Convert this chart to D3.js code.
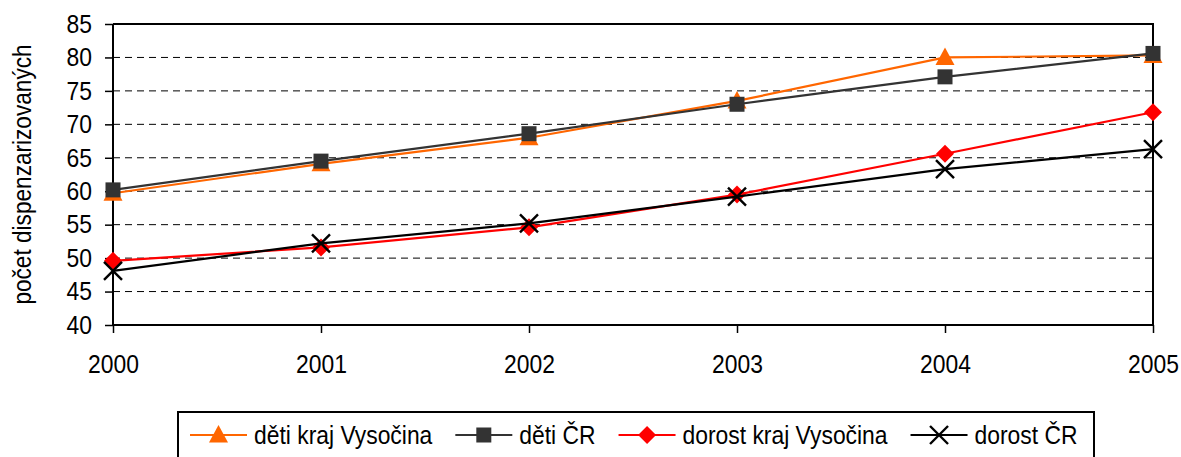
<!DOCTYPE html>
<html>
<head>
<meta charset="utf-8">
<script src="https://cdn.jsdelivr.net/npm/d3@7"></script>
<style>
  body { margin: 0; background: #fff; }
  text { font-family: "Liberation Sans Narrow", "Arial Narrow", "Liberation Sans", sans-serif; }
</style>
</head>
<body>
<div id="chart"></div>
<script>
// data
var years = ["2000", "2001", "2002", "2003", "2004", "2005"];
var detiKraj = [59.7, 64.1, 68.0, 73.5, 80.0, 80.3];
var detiCR = [60.2, 64.5, 68.6, 73.0, 77.1, 80.6];
var dorostKraj = [49.6, 51.6, 54.6, 59.5, 65.6, 71.8];
var dorostCR = [48.1, 52.2, 55.2, 59.2, 63.3, 66.3];
var yTicks = [40, 45, 50, 55, 60, 65, 70, 75, 80, 85];

var series = [
  {name: "děti kraj Vysočina", values: detiKraj, color: "#ff6600", marker: "triangle"},
  {name: "děti ČR", values: detiCR, color: "#333333", marker: "square"},
  {name: "dorost kraj Vysočina", values: dorostKraj, color: "#ff0000", marker: "diamond"},
  {name: "dorost ČR", values: dorostCR, color: "#000000", marker: "cross"}
];

// narrow look: regular sans squeezed horizontally
var squeeze = 0.88;

var svg_width = 1181;
var svg_height = 457;
var svg = d3.select("#chart").append("svg")
  .attr("width", svg_width)
  .attr("height", svg_height);

var margin = {top: 24, right: 28, bottom: 132, left: 113};
var chart_width = svg_width - margin.left - margin.right;
var chart_height = svg_height - margin.top - margin.bottom;

var g = svg.append("g")
  .attr("transform", "translate(" + margin.left + "," + margin.top + ")");

var x = d3.scalePoint()
  .domain(years)
  .range([0, chart_width]);

var y = d3.scaleLinear()
  .domain([40, 85])
  .range([chart_height, 0]);

// dashed grid
g.append("g").selectAll("line")
  .data(yTicks.filter(function(d) { return d > 40 && d < 85; }))
  .enter().append("line")
  .attr("x1", 0)
  .attr("x2", chart_width)
  .attr("y1", function(d) { return y(d); })
  .attr("y2", function(d) { return y(d); })
  .attr("stroke", "#000")
  .attr("stroke-width", 1)
  .attr("stroke-dasharray", "7,5");

// plot border top & right
g.append("path")
  .attr("d", "M0," + y(85) + "H" + chart_width + "V" + chart_height)
  .attr("fill", "none")
  .attr("stroke", "#000")
  .attr("stroke-width", 2);

// y axis
var yAxis = g.append("g")
  .call(d3.axisLeft(y).tickValues(yTicks).tickSize(8).tickPadding(13));
yAxis.select(".domain").attr("stroke-width", 2).attr("d", "M0,0V" + chart_height);
yAxis.selectAll(".tick line").attr("stroke-width", 1.5);
yAxis.selectAll("text")
  .attr("font-size", "26px")
  .attr("fill", "#000")
  .attr("x", -21 / squeeze)
  .attr("transform", "scale(" + squeeze + ",1)");

// x axis
var xAxis = g.append("g")
  .attr("transform", "translate(0," + chart_height + ")")
  .call(d3.axisBottom(x).tickSize(8).tickPadding(22));
xAxis.select(".domain").attr("stroke-width", 2).attr("d", "M0,0H" + chart_width);
xAxis.selectAll(".tick line").attr("stroke-width", 1.5);
xAxis.selectAll("text")
  .attr("font-size", "26px")
  .attr("fill", "#000")
  .attr("transform", "scale(" + squeeze + ",1)");

// y-axis label
svg.append("text")
  .attr("transform", "translate(31," + (margin.top + chart_height / 2) + ") rotate(-90) scale(0.87,1)")
  .attr("text-anchor", "middle")
  .attr("font-size", "26px")
  .text("počet dispenzarizovaných");

function drawMarker(sel, type, color) {
  if (type == "triangle") {
    sel.append("path").attr("d", "M0,-10L9.5,7.5L-9.5,7.5Z").attr("fill", color);
  } else if (type == "square") {
    sel.append("rect").attr("x", -7.5).attr("y", -7.5).attr("width", 15).attr("height", 15).attr("fill", color);
  } else if (type == "diamond") {
    sel.append("path").attr("d", "M0,-9L9,0L0,9L-9,0Z").attr("fill", color);
  } else {
    sel.append("path").attr("d", "M-9,-9L9,9M9,-9L-9,9").attr("stroke", color).attr("stroke-width", 2.4);
  }
}

var line = d3.line()
  .x(function(d, i) { return x(years[i]); })
  .y(function(d) { return y(d); });

series.forEach(function(s) {
  g.append("path")
    .attr("d", line(s.values))
    .attr("fill", "none")
    .attr("stroke", s.color)
    .attr("stroke-width", 2.2);
  s.values.forEach(function(v, i) {
    var m = g.append("g")
      .attr("transform", "translate(" + x(years[i]) + "," + y(v) + ")");
    drawMarker(m, s.marker, s.color);
  });
});

// legend
var legend = svg.append("g");
legend.append("rect")
  .attr("x", 178).attr("y", 412)
  .attr("width", 916).attr("height", 60)
  .attr("fill", "#fff")
  .attr("stroke", "#000")
  .attr("stroke-width", 2);

var lx = 190;
series.forEach(function(s) {
  var item = legend.append("g").attr("transform", "translate(" + lx + ",435)");
  item.append("line")
    .attr("x1", 0).attr("x2", 57)
    .attr("stroke", s.color).attr("stroke-width", 2.2);
  var m = item.append("g").attr("transform", "translate(28.5,0)");
  drawMarker(m, s.marker, s.color);
  var t = item.append("text")
    .attr("transform", "translate(64,0) scale(" + squeeze + ",1)")
    .attr("dy", "0.35em")
    .attr("font-size", "26px")
    .text(s.name);
  lx += 64 + t.node().getComputedTextLength() * squeeze + 23;
});
</script>
</body>
</html>
